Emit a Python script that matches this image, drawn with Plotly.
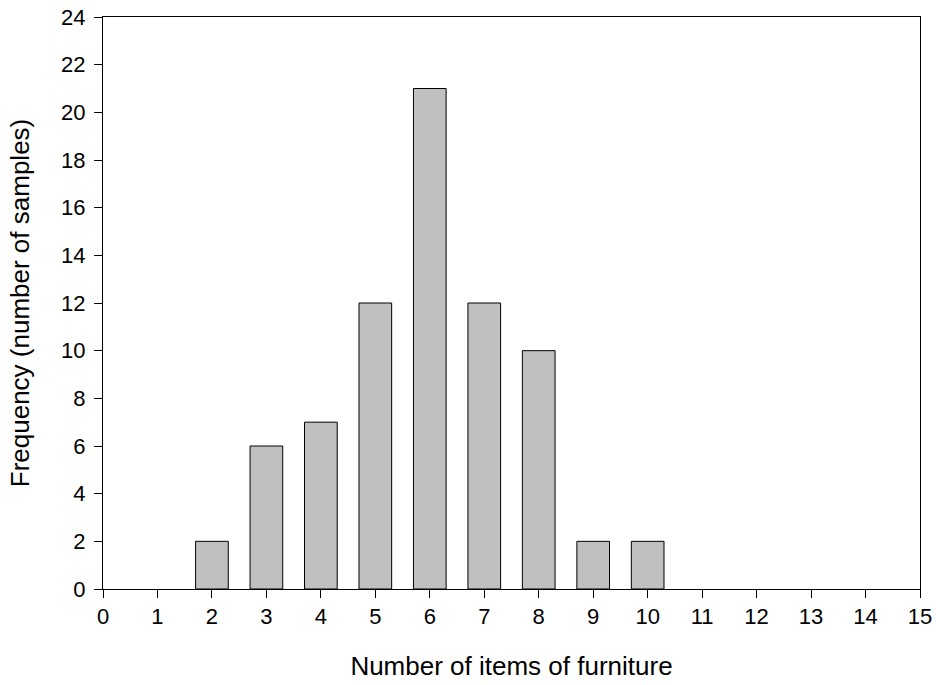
import plotly.graph_objects as go

# Histogram of furniture counts per sample
items = [0, 1, 2, 3, 4, 5, 6, 7, 8, 9, 10, 11, 12, 13, 14]
frequency = [0, 0, 2, 6, 7, 12, 21, 12, 10, 2, 2, 0, 0, 0, 0]

x_ticks = list(range(0, 16))
y_ticks = list(range(0, 25, 2))

# empty classes get no outline so only the axis line shows there
outline_widths = [1 if f > 0 else 0 for f in frequency]

fig = go.Figure(
    go.Bar(
        x=items,
        y=frequency,
        width=0.6,
        marker=dict(color="#c0c0c0", line=dict(color="#000000", width=outline_widths)),
    )
)

font_family = "Liberation Sans, Arial, sans-serif"

fig.update_layout(
    width=936,
    height=685,
    margin=dict(l=103, r=16, t=17, b=96),
    plot_bgcolor="white",
    paper_bgcolor="white",
    showlegend=False,
    font=dict(family=font_family, color="black", size=22),
)

axis_common = dict(
    ticks="outside",
    ticklen=8,
    tickwidth=1,
    tickcolor="black",
    showline=True,
    linecolor="black",
    linewidth=1,
    mirror=True,
    showgrid=False,
    zeroline=False,
    automargin=False,
    tickfont=dict(family=font_family, size=22, color="black"),
)

fig.update_xaxes(
    range=[0, 15],
    tickvals=x_ticks,
    ticktext=[str(v) for v in x_ticks],
    title=dict(text="Number of items of furniture", font=dict(family=font_family, size=26), standoff=28),
    **axis_common,
)

fig.update_yaxes(
    range=[0, 24],
    tickvals=y_ticks,
    ticktext=[str(v) for v in y_ticks],
    ticklabelstandoff=4,
    title=dict(text="Frequency (number of samples)", font=dict(family=font_family, size=26), standoff=24),
    **axis_common,
)

fig.write_html("out.html")
